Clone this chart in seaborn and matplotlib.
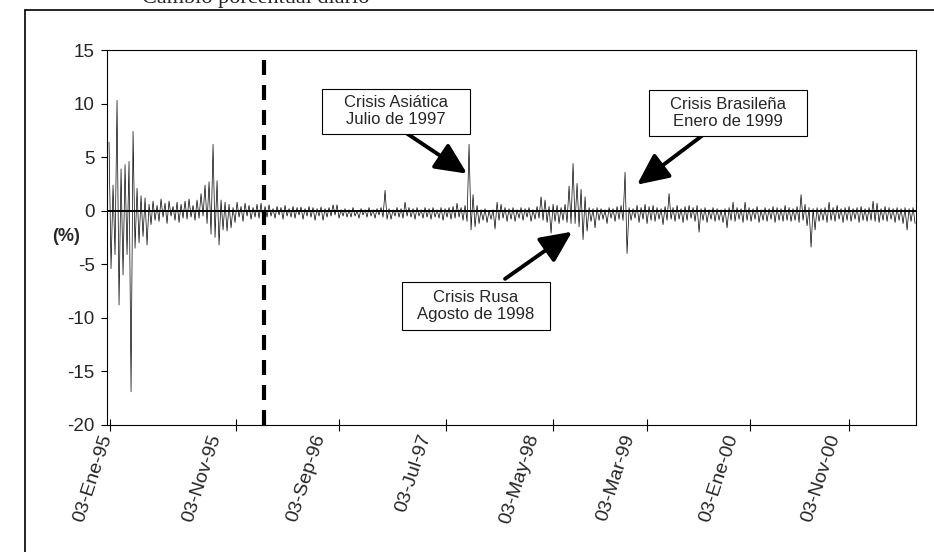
import numpy as np
import pandas as pd
import seaborn as sns
import matplotlib.pyplot as plt
from matplotlib.lines import Line2D
from matplotlib.patches import Rectangle

ret_high = [
    6.4, 2.4, 10.3, 3.9, 4.3, 4.6, 7.4, 2.1, 1.4, 1.2,
    0.6, 0.9, 0.5, 1.1, 0.7, 0.9, 0.4, 0.8, 0.6, 0.9,
    1.1, 0.5, 1.0, 1.6, 2.4, 2.7, 6.2, 2.8, 1.0, 0.8,
    0.6, 0.3, 0.8, 0.4, 0.7, 0.5, 0.3, 0.6, 0.7, 0.4,
    0.55, 0.2, 0.4, 0.3, 0.5, 0.2, 0.4, 0.3, 0.35, 0.2,
    0.4, 0.3, 0.2, 0.35, 0.2, 0.3, 0.55, 0.55, 0.1, 0.2,
    0.1, 0.3, 0.0, 0.2, 0.1, 0.3, 0.1, 0.2, 0.3, 1.9,
    0.2, 0.1, 0.3, 0.2, 0.8, 0.3, 0.2, 0.3, 0.1, 0.3,
    0.2, 0.3, 0.1, 0.3, 0.2, 0.3, 0.4, 0.7, 0.3, 0.5,
    6.2, 1.5, 0.5, 0.1, 0.2, 0.0, 0.1, 0.8, 0.6, 0.3,
    0.2, 0.3, 0.1, 0.3, 0.2, 0.3, 0.1, 0.4, 1.3, 1.0,
    0.4, 0.6, 0.5, 0.3, 0.6, 2.3, 4.4, 2.55, 2.0, 1.3,
    0.3, 0.2, 0.3, 0.2, 0.1, 0.3, 0.2, 0.4, 0.5, 3.6,
    0.3, 0.2, 0.5, 0.3, 0.6, 0.4, 0.5, 0.3, 0.2, 0.4,
    1.6, 0.3, 0.5, 0.2, 0.4, 0.5, 0.3, 0.5, 0.2, 0.3,
    0.1, 0.3, 0.2, 0.1, 0.2, 0.3, 0.8, 0.3, 0.2, 0.8,
    0.3, 0.2, 0.4, 0.1, 0.3, 0.2, 0.4, 0.3, 0.2, 0.5,
    0.3, 0.2, 0.4, 1.5, 0.6, 0.3, 0.2, 0.3, 0.2, 0.3,
    0.8, 0.3, 0.5, 0.2, 0.3, 0.4, 0.2, 0.3, 0.4, 0.2,
    0.3, 0.9, 0.7, 0.2, 0.4, 0.3, 0.2, 0.3, 0.2, 0.3,
    0.2, 0.3,
]
ret_low = [
    -5.4, -4.1, -8.8, -6.0, -4.1, -16.9, -3.5, -3.0, -2.4, -3.2,
    -1.3, -0.9, -1.0, -0.6, -1.2, -0.5, -0.9, -1.1, -0.7, -0.8,
    -0.6, -0.9, -0.7, -0.5, -1.2, -2.2, -2.5, -3.2, -1.8, -1.9,
    -1.6, -1.1, -0.6, -1.0, -0.5, -0.8, -0.6, -0.7, -0.9, -0.6,
    -0.5, -0.7, -0.4, -0.8, -0.5, -0.6, -0.7, -0.4, -0.8, -0.5,
    -0.6, -0.9, -0.5, -0.9, -0.6, -0.5, -0.4, -0.7, -0.5, -0.6,
    -0.6, -0.5, -0.7, -0.4, -0.6, -0.5, -0.7, -0.4, -0.6, -0.8,
    -0.8, -0.5, -0.6, -0.7, -0.5, -0.6, -0.8, -0.5, -0.7, -0.6,
    -0.8, -0.6, -0.7, -0.9, -0.6, -0.8, -0.7, -0.6, -0.9, -1.0,
    -1.8, -1.5, -1.2, -0.9, -1.1, -0.8, -1.7, -0.9, -0.7, -1.0,
    -0.8, -1.0, -0.7, -0.9, -0.6, -1.0, -0.8, -0.7, -0.9, -1.1,
    -2.1, -1.0, -1.2, -0.9, -1.1, -1.2, -1.2, -1.5, -2.7, -1.9,
    -1.0, -1.6, -0.9, -0.8, -1.2, -0.7, -1.0, -0.8, -0.9, -4.0,
    -0.9, -0.7, -1.1, -0.8, -1.2, -0.9, -1.0, -0.8, -1.3, -0.9,
    -0.8, -1.0, -0.8, -1.1, -0.9, -0.7, -1.0, -2.0, -0.9, -1.1,
    -0.8, -1.0, -0.9, -1.1, -1.6, -0.9, -1.0, -0.8, -1.1, -0.9,
    -1.0, -0.8, -1.1, -0.9, -1.0, -0.8, -1.1, -0.9, -1.0, -0.9,
    -1.0, -0.9, -1.1, -0.9, -1.4, -3.4, -1.8, -1.0, -0.9, -1.1,
    -0.9, -1.0, -0.8, -1.1, -0.9, -1.0, -0.8, -1.1, -0.9, -1.0,
    -0.9, -1.0, -1.1, -0.9, -1.0, -0.8, -1.1, -0.9, -1.2, -1.8,
    -1.0, -1.2,
]

tick_labels = ["03-Ene-95", "03-Nov-95", "03-Sep-96", "03-Jul-97",
               "03-May-98", "03-Mar-99", "03-Ene-00", "03-Nov-00"]
label_obs = [-1, 53.5, 105.5, 158.5, 212.5, 260.5, 312, 363]   # where the labels sit
tick_obs = [0.5, 63.5, 115, 168.5, 222, 269, 320.5, 370]      # where the tick marks sit
break_obs = 77.5                                              # dashed sample split

crisis_text = ["Crisis Asiática\nJulio de 1997",
               "Crisis Rusa\nAgosto de 1998",
               "Crisis Brasileña\nEnero de 1999"]
crisis_obs = [179, 231.5, 264]
crisis_val = [3.46, -1.96, 2.43]

ret = np.column_stack([ret_high, ret_low]).ravel()
df = pd.DataFrame({"obs": np.arange(len(ret)), "ret": ret})

sns.set_style("ticks")
plt.rcParams["font.family"] = ["Liberation Sans", "DejaVu Sans"]
plt.rcParams["axes.unicode_minus"] = False

fig = plt.figure(figsize=(9.34, 5.52), dpi=100)
ax = fig.add_axes([0.1146, 0.2301, 0.8662, 0.6793])

sns.lineplot(data=df, x="obs", y="ret", color="black", lw=0.5, ax=ax, legend=False)
ax.axhline(0, color="black", lw=1.4, zorder=1)   # dense core of the daily trace
ax.axvline(break_obs, color="black", lw=3, ls=(0, (3.6, 2.4)))

ax.set_xlim(-0.5, len(ret) - 0.5)
ax.set_ylim(-20, 15)
ax.set_yticks(range(-20, 16, 5))
ax.tick_params(axis="y", labelsize=13.5, length=4, width=0.8, pad=5, color="black")
ax.set_xlabel("")
ax.set_ylabel("")

# labels without marks, marks as minor ticks
ax.set_xticks(label_obs, tick_labels)
ax.set_xticks(tick_obs, minor=True)
ax.tick_params(axis="x", which="major", length=0, pad=7, labelsize=14)
ax.tick_params(axis="x", which="minor", length=8, width=0.8, direction="inout", color="black")
for tl in ax.get_xticklabels():
    tl.set_rotation(72)
    tl.set_ha("right")
    tl.set_va("center")
    tl.set_rotation_mode("anchor")

for sp in ax.spines.values():
    sp.set_color("black")
    sp.set_linewidth(0.8)

# annotation boxes (in data units) and arrows
boxes = [(106.5, 7.2, 74, 4.2), (146.5, -11.1, 74, 4.4), (270, 7.0, 79, 4.3)]
starts = [(149, 7.2), (198, -6.36), (296.5, 7.0)]
for txt, bx, st, x, y in zip(crisis_text, boxes, starts, crisis_obs, crisis_val):
    ax.add_patch(Rectangle((bx[0], bx[1]), bx[2], bx[3], facecolor="white",
                           edgecolor="black", lw=0.8, zorder=5))
    ax.text(bx[0] + bx[2] / 2, bx[1] + bx[3] / 2, txt, ha="center", va="center",
            fontsize=12, linespacing=1.15, zorder=6)
    ax.annotate("", xy=(x, y), xytext=st, zorder=4,
                arrowprops=dict(arrowstyle="-|>,head_length=1.6,head_width=0.75",
                                color="black", lw=2.8, shrinkA=0, shrinkB=0,
                                mutation_scale=12))

fig.text(0.0707, 0.5707, "(%)", ha="center", va="center", fontsize=13, fontweight="bold")

# cut-off heading and outer frame of the scanned page
fig.text(0.396, 1 - 3 / 552, "Cambio porcentual diario", ha="right", va="baseline",
         fontsize=16, family=["Liberation Serif", "DejaVu Serif"])
fig.add_artist(Line2D([25 / 934, 25 / 934], [0, 1 - 10 / 552], transform=fig.transFigure,
                      color="black", lw=1.2))
fig.add_artist(Line2D([25 / 934, 1], [1 - 10 / 552, 1 - 10 / 552], transform=fig.transFigure,
                      color="black", lw=1.2))

fig.savefig("out.png", dpi=100)
